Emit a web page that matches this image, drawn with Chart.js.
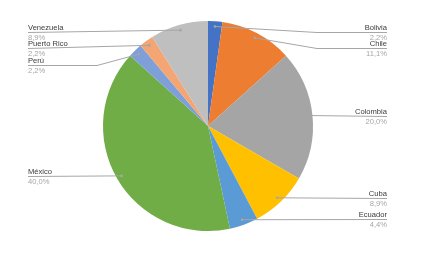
<!DOCTYPE html>
<html>
<head>
<meta charset="utf-8">
<script src="https://cdn.jsdelivr.net/npm/chart.js@4.4.0/dist/chart.umd.min.js"></script>
<style>
  body { margin: 0; background: #fff; }
  canvas { display: block; }
</style>
</head>
<body>
<canvas id="chart" width="437" height="260"></canvas>
<script>
const countries = ['Bolivia', 'Chile', 'Colombia', 'Cuba', 'Ecuador', 'México', 'Perú', 'Puerto Rico', 'Venezuela'];
const shares = [2.2, 11.1, 20.0, 8.9, 4.4, 40.0, 2.2, 2.2, 8.9];
const sliceColors = ['#4472C4', '#ED7D31', '#A5A5A5', '#FFC000', '#5B9BD5', '#70AD47', '#7F9FD8', '#F3A674', '#BFBFBF'];

// where each label's underline sits (layout only)
const labelLineY = [32, 48, 116, 198, 219, 176, 65, 48, 32];

const fmtPct = v => v.toFixed(1).replace('.', ',') + '%';

const leaderLabels = {
  id: 'leaderLabels',
  afterDatasetsDraw(chart) {
    const ctx = chart.ctx;
    const arcs = chart.getDatasetMeta(0).data;
    ctx.save();
    arcs.forEach((arc, i) => {
      const p = arc.getProps(['x', 'y', 'startAngle', 'endAngle', 'outerRadius'], true);
      const mid = (p.startAngle + p.endAngle) / 2;
      const dx = p.x + Math.cos(mid) * p.outerRadius * 0.95;
      const dy = p.y + Math.sin(mid) * p.outerRadius * 0.95;
      const right = Math.cos(mid) >= 0;
      const ly = labelLineY[i];
      const endX = right ? 387 : 28;

      ctx.strokeStyle = '#A6A6A6';
      ctx.lineWidth = 1;
      ctx.beginPath();
      ctx.moveTo(dx, dy);
      if (Math.abs(dy - ly) > 4) {
        const elbowX = right ? p.x + p.outerRadius + 4 : p.x - p.outerRadius - 6;
        ctx.lineTo(elbowX, ly + 0.5);
      }
      ctx.lineTo(endX, ly + 0.5);
      ctx.stroke();

      ctx.fillStyle = '#A6A6A6';
      ctx.beginPath();
      ctx.arc(dx, dy, 1.3, 0, Math.PI * 2);
      ctx.fill();

      ctx.font = '7.6px "Liberation Sans", Arial, sans-serif';
      ctx.textAlign = right ? 'right' : 'left';
      ctx.textBaseline = 'alphabetic';
      ctx.fillStyle = '#3A3A3A';
      ctx.fillText(countries[i], endX, ly - 2);
      ctx.fillStyle = '#A6A6A6';
      ctx.fillText(fmtPct(shares[i]), endX, ly + 8);
    });
    ctx.restore();
  }
};

new Chart(document.getElementById('chart'), {
  type: 'pie',
  data: {
    labels: countries,
    datasets: [{
      data: shares,
      backgroundColor: sliceColors,
      borderWidth: 0
    }]
  },
  options: {
    responsive: false,
    animation: false,
    layout: { padding: { left: 100, right: 121, top: 21, bottom: 29 } },
    plugins: {
      legend: { display: false },
      tooltip: { enabled: false }
    }
  },
  plugins: [leaderLabels]
});
</script>
</body>
</html>
